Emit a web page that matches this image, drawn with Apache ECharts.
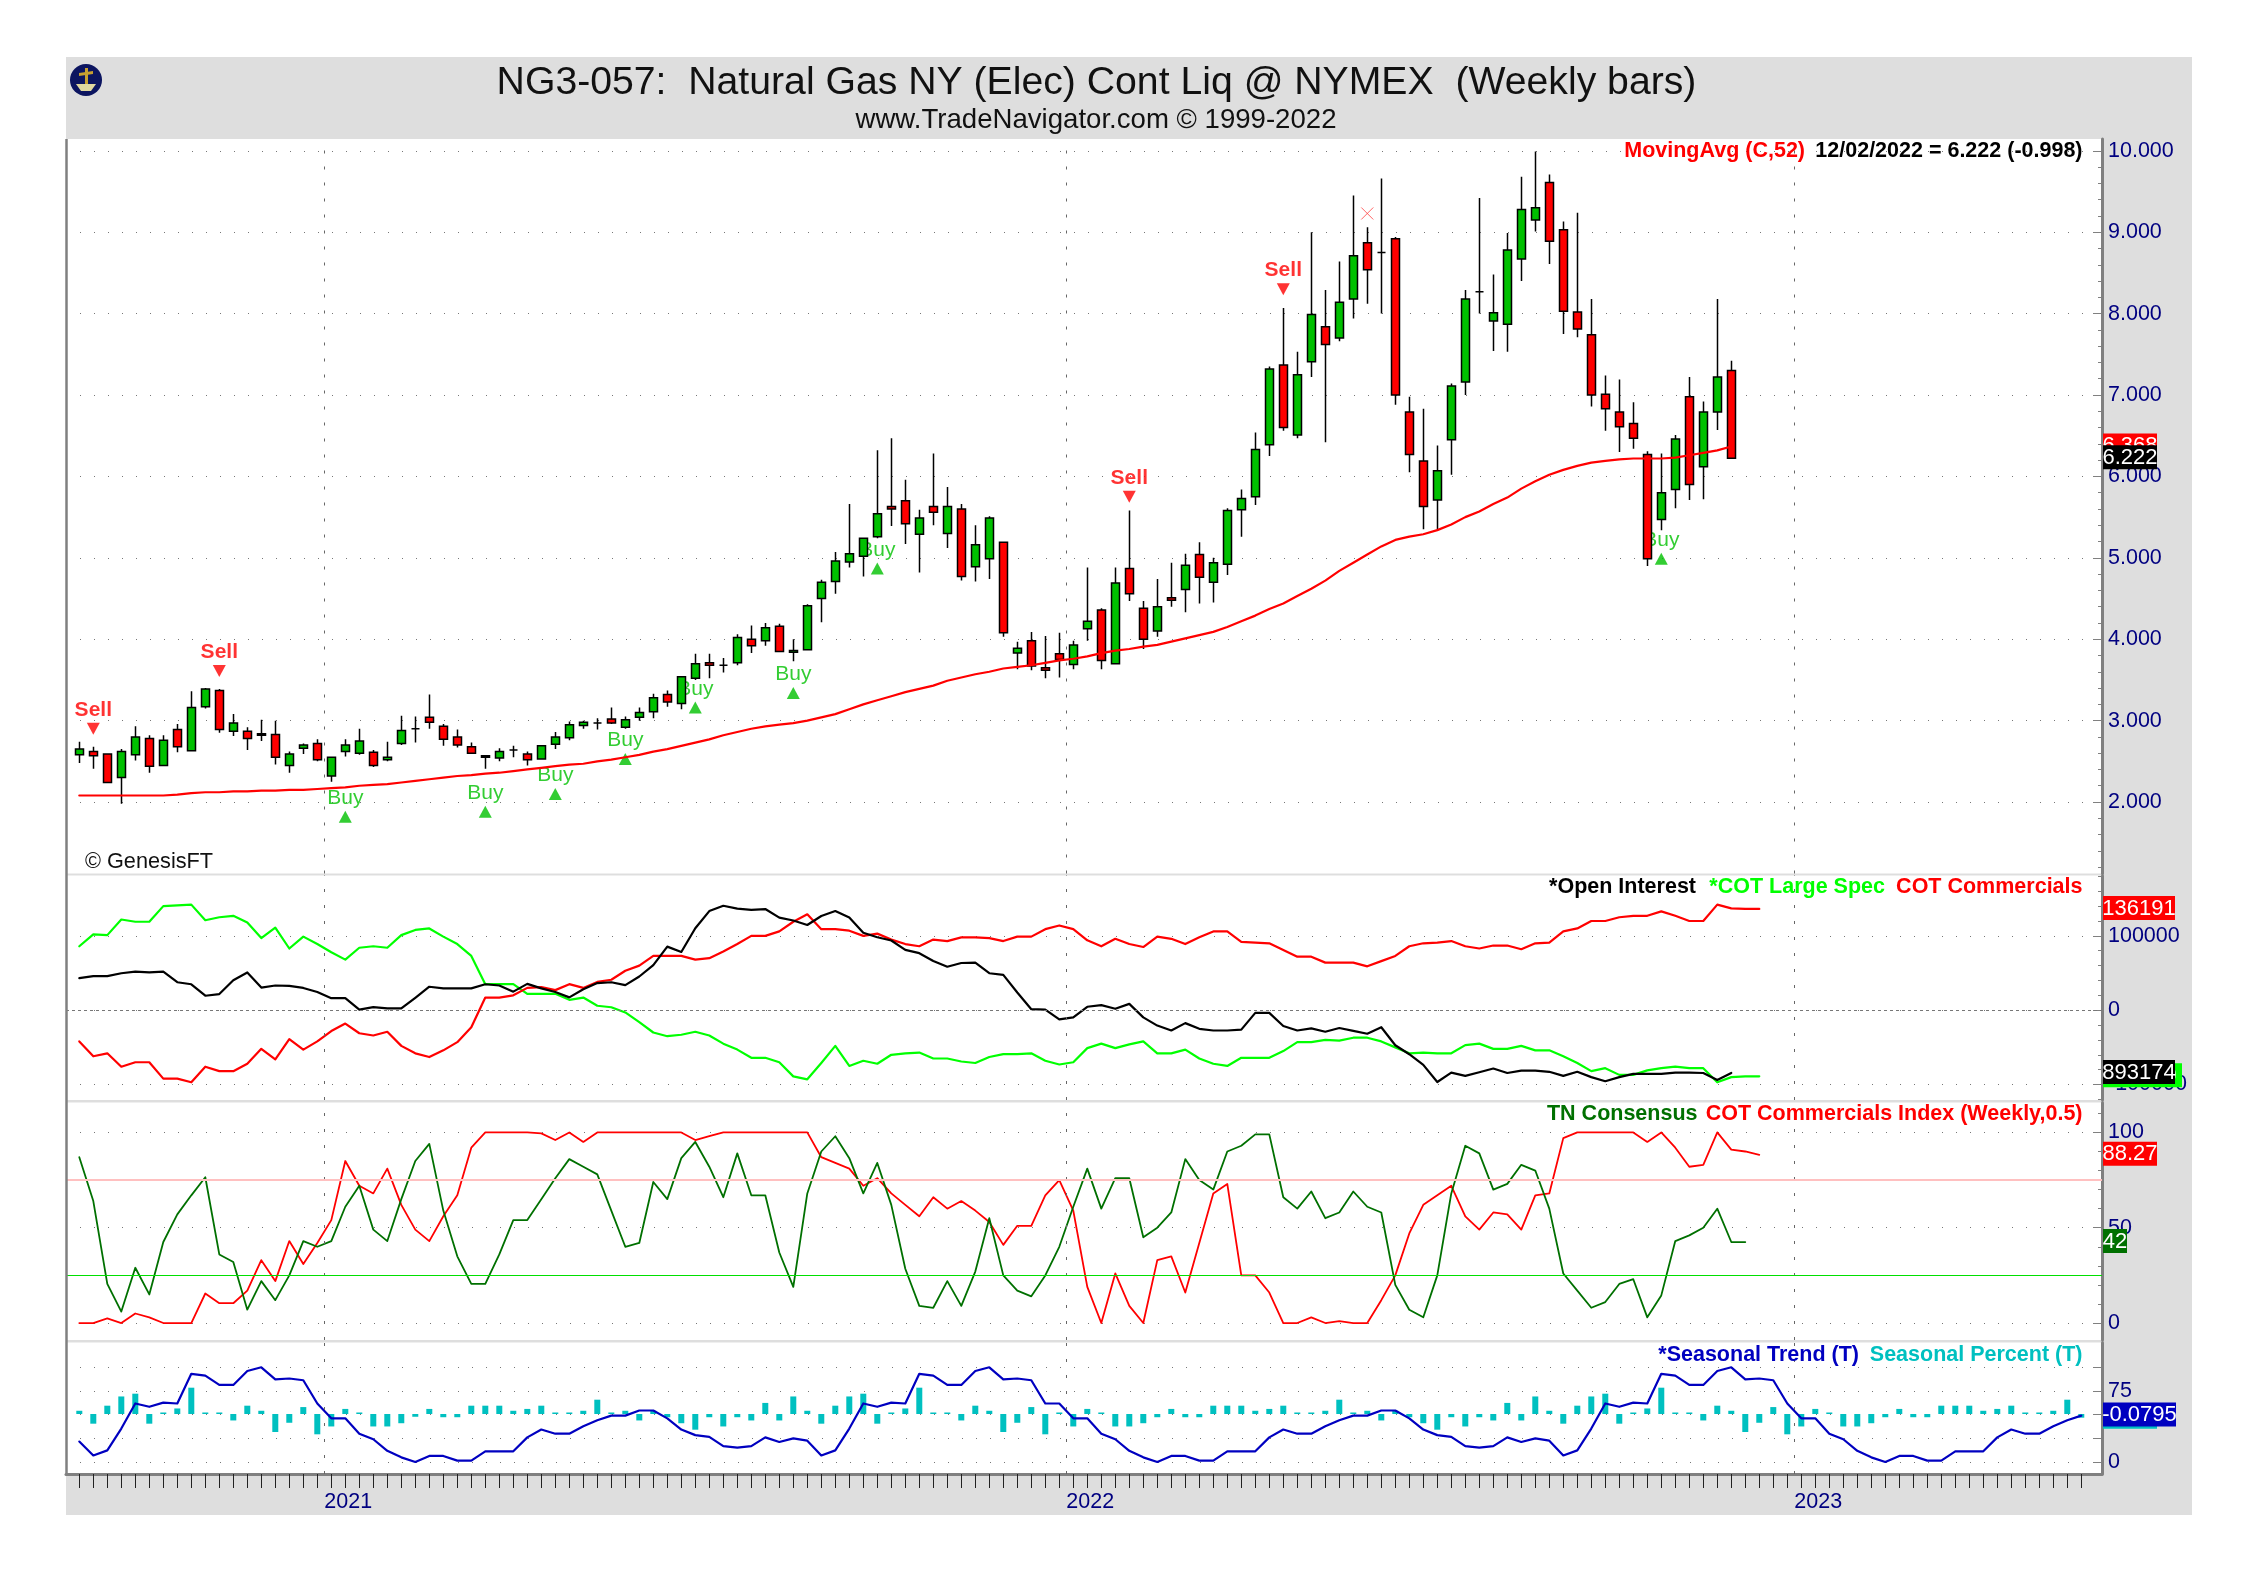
<!DOCTYPE html>
<html><head><meta charset="utf-8">
<style>html,body{margin:0;padding:0;background:#fff}#c{width:2258px;height:1584px}</style>
<script src="https://cdn.jsdelivr.net/npm/echarts@6/dist/echarts.min.js"></script>
</head><body><div id="c"></div>
<script>
// ---- price candles (weekly, last bar 12/02/2022)
const opens=[2.58,2.62,2.59,2.30,2.58,2.78,2.45,2.89,2.63,3.17,3.37,2.87,2.87,2.82,2.83,2.45,2.66,2.72,2.32,2.62,2.60,2.61,2.52,2.72,2.90,3.04,2.93,2.80,2.68,2.55,2.54,2.64,2.59,2.53,2.71,2.79,2.94,2.97,3.02,2.92,3.04,3.11,3.32,3.21,3.52,3.71,3.68,3.71,4.00,3.98,4.16,3.84,3.87,4.50,4.71,4.95,5.02,5.26,5.63,5.70,5.29,5.63,5.30,5.60,4.89,4.99,5.19,3.83,3.98,3.65,3.82,3.69,4.13,4.36,3.70,4.87,4.38,4.10,4.51,4.61,5.04,4.70,4.92,5.59,5.75,6.39,7.37,6.51,7.41,7.84,7.70,8.18,8.87,8.75,8.92,6.79,6.19,5.71,6.45,7.16,8.27,7.91,7.87,8.67,9.15,9.61,9.03,8.02,7.74,7.01,6.79,6.65,6.27,5.47,5.84,6.98,6.12,6.79,7.30];
const closes=[2.65,2.57,2.24,2.62,2.80,2.44,2.76,2.68,3.16,3.39,2.89,2.97,2.78,2.84,2.55,2.59,2.70,2.52,2.55,2.70,2.75,2.45,2.55,2.88,2.90,2.98,2.77,2.70,2.60,2.57,2.62,2.64,2.52,2.69,2.80,2.95,2.98,2.97,2.97,3.01,3.10,3.28,3.23,3.54,3.70,3.68,3.68,4.02,3.92,4.14,3.85,3.86,4.41,4.70,4.96,5.05,5.24,5.54,5.60,5.42,5.49,5.56,5.63,4.77,5.16,5.49,4.08,3.89,3.67,3.62,3.75,3.93,4.22,3.74,4.69,4.56,4.00,4.40,4.48,4.91,4.76,4.94,5.58,5.73,6.33,7.32,6.60,7.25,7.99,7.62,8.14,8.71,8.54,8.75,7.00,6.27,5.63,6.07,7.11,8.18,8.27,8.01,8.78,9.28,9.30,8.89,8.03,7.81,7.00,6.83,6.61,6.47,4.99,5.80,6.46,5.90,6.79,7.22,6.222];
const lows=[2.48,2.41,2.24,1.98,2.51,2.36,2.44,2.61,2.63,3.15,2.85,2.81,2.64,2.75,2.46,2.36,2.59,2.50,2.25,2.56,2.58,2.43,2.50,2.70,2.73,2.90,2.69,2.67,2.59,2.41,2.50,2.55,2.45,2.52,2.65,2.76,2.90,2.89,2.96,2.90,3.00,3.03,3.17,3.14,3.50,3.52,3.59,3.68,3.83,3.92,3.85,3.73,3.86,4.21,4.56,4.88,4.77,5.24,5.39,5.17,4.82,5.40,5.12,4.72,4.71,4.74,4.03,3.63,3.62,3.52,3.53,3.63,3.98,3.63,3.69,4.47,3.88,4.03,4.40,4.33,4.44,4.45,4.79,5.26,5.65,6.25,6.56,6.47,7.22,6.42,7.66,7.94,8.12,8.00,6.88,6.05,5.35,5.34,6.02,7.00,8.00,7.54,7.53,8.40,9.01,8.61,7.75,7.71,6.86,6.56,6.30,6.34,4.90,5.34,5.61,5.71,5.72,6.57,6.22];
const highs=[2.74,2.68,2.59,2.65,2.93,2.82,2.82,2.96,3.36,3.40,3.39,3.08,2.92,3.01,3.00,2.62,2.72,2.77,2.55,2.77,2.90,2.64,2.74,3.06,3.05,3.32,2.96,2.89,2.73,2.57,2.66,2.69,2.62,2.70,2.86,2.99,3.00,3.03,3.16,3.05,3.16,3.33,3.37,3.54,3.82,3.82,3.77,4.06,4.17,4.20,4.19,4.00,4.43,4.73,5.07,5.66,5.25,6.32,6.47,5.96,5.59,6.28,5.87,5.66,5.40,5.51,5.19,3.97,4.09,4.04,4.08,3.98,4.88,4.38,4.88,5.58,4.47,4.74,4.94,5.05,5.19,5.00,5.61,5.84,6.54,7.35,8.07,7.53,9.00,8.29,8.64,9.45,9.06,9.66,8.94,6.98,6.83,6.38,7.14,8.29,9.42,8.48,8.99,9.68,9.99,9.71,9.13,9.24,8.18,7.24,7.19,6.91,6.31,6.28,6.51,7.22,6.92,8.18,7.42];
const movingAvg=[2.08,2.08,2.08,2.08,2.08,2.08,2.08,2.09,2.11,2.12,2.12,2.13,2.13,2.14,2.14,2.15,2.15,2.16,2.17,2.18,2.20,2.21,2.22,2.24,2.26,2.28,2.30,2.32,2.33,2.35,2.36,2.38,2.40,2.42,2.44,2.46,2.47,2.50,2.52,2.55,2.58,2.62,2.65,2.69,2.73,2.77,2.82,2.86,2.90,2.93,2.95,2.97,3.00,3.04,3.08,3.14,3.20,3.25,3.30,3.35,3.39,3.43,3.49,3.53,3.57,3.60,3.64,3.66,3.68,3.71,3.74,3.76,3.79,3.83,3.86,3.88,3.91,3.93,3.97,4.01,4.05,4.09,4.15,4.22,4.29,4.37,4.44,4.53,4.62,4.72,4.84,4.94,5.04,5.14,5.22,5.26,5.29,5.34,5.41,5.50,5.57,5.66,5.74,5.85,5.94,6.02,6.08,6.13,6.17,6.19,6.21,6.22,6.22,6.22,6.23,6.26,6.29,6.32,6.368];
const buySignals=[[19,1.82],[29,1.88],[34,2.10],[39,2.53],[44,3.16],[51,3.34],[57,4.87],[113,4.99]];
const sellSignals=[[1,2.90],[10,3.61],[75,5.75],[86,8.30]];
const crossMarks=[[92,9.23]];
// ---- COT panel (thousands of contracts)
const cotLargeSpec=[86,102,101,122,119,119,140,141,142,121,125,127,118,97,111,83,99,89,78,68,84,86,84,101,108,110,99,89,73,35,35,35,22,22,22,14,17,6,4,-3,-16,-30,-35,-33,-29,-34,-45,-53,-64,-64,-70,-89,-93,-71,-48,-75,-68,-72,-60,-58,-57,-65,-65,-69,-71,-63,-59,-59,-58,-68,-73,-70,-51,-45,-51,-46,-42,-58,-58,-53,-65,-72,-75,-64,-64,-64,-55,-43,-43,-40,-41,-37,-37,-42,-50,-58,-57,-58,-58,-47,-45,-52,-52,-48,-54,-54,-62,-71,-82,-78,-87,-87,-81,-78,-76,-78,-78,-97,-90,-89,-89];
const cotCommercials=[-42,-62,-58,-76,-70,-70,-92,-92,-97,-76,-82,-82,-72,-52,-66,-39,-53,-42,-28,-18,-31,-34,-29,-48,-58,-63,-54,-43,-23,17,17,20,30,31,27,35,30,38,41,53,60,73,73,73,68,70,79,89,100,100,106,119,129,109,109,107,100,103,95,89,86,95,93,98,98,97,93,99,99,109,114,109,94,86,96,89,85,99,96,89,98,106,106,92,91,90,81,72,72,64,64,64,59,66,73,86,90,91,93,86,83,87,87,82,90,91,106,110,120,120,125,127,127,133,127,120,120,142,137,136.2,136.2];
const openInterest=[1125,1130,1130,1137,1141,1139,1141,1115,1110,1082,1086,1120,1139,1102,1107,1106,1101,1091,1076,1076,1048,1054,1051,1051,1077,1104,1100,1100,1100,1110,1107,1092,1111,1100,1091,1078,1098,1113,1115,1108,1129,1157,1202,1189,1247,1289,1302,1295,1292,1294,1273,1266,1255,1277,1289,1273,1236,1225,1217,1194,1186,1167,1153,1162,1163,1137,1133,1090,1049,1048,1024,1029,1055,1059,1050,1062,1029,1009,997,1015,1001,997,997,999,1040,1040,1008,997,1002,994,1003,996,989,1005,961,939,913,871,894,886,895,904,893,899,899,896,886,896,883,873,883,891,891,891,894,894,893,876,893.174];
// ---- consensus panel
const tnConsensus=[87,64,20.5,6,29,15,42.5,57,67,76.5,36,32,7,22,12,25,43,40,43,61,72,49,43,65,85,94,59,35,20.5,20.5,36,54,54,65,76,86,82,78,59,40,42,74,65,86.5,95,82,66,89,67,67,37,19,68,90,98,86.5,68,84,62,28.5,9,8,22,9,27,55,25,17,14,25,40,61,81,60,76,76,45,50,58,86,75,70,90,93,99,99,66,60,69,55,58,69,61,58,20,7,3,25,68,93,89,70,73,83,80,60,26,17,8,11,20.5,23,3,14.5,43,46,50,60,42.5,42.5];
const cotIndex=[0,0,2.4,0,5,3,0,0,0,15.5,10.4,10.4,17,33,22,43,31,42,54,85,72,68,81,62,49,43,56,67,92,100,100,100,100,99.5,96,100,95,100,100,100,100,100,100,100,96,98,100,100,100,100,100,100,100,87,84,81,72,76,68,62,56,66,60,64,59,53,41,51,51,67,75,59,19,0,26,9,0,33,35,16,42,68,73,25,25,16,0,0,3,0,1,0,0,12,25,47,62,67,72,56,49,58,57,49,67,68,97,100,100,100,100,100,95,100,92,82,83,100,91,90,88.27];
// ---- seasonal panel
const seasonalTrend=[21.6,6.9,12.3,35.3,61.8,58.3,62.7,61.8,93.1,91.2,81.4,81.4,96.1,100,87.3,88.2,86.3,61.8,46.1,46.1,29.9,24,11.8,4.9,0,6.4,6.4,1.5,1.5,11.3,11.3,11.3,26,34.3,29.9,29.9,37.7,44.1,49,49,54.4,54.4,46.1,34.3,28.4,26.5,16.7,15.2,16.7,26,21.1,25,22.5,6.9,12.3,35.3,61.8,58.3,62.7,61.8,93.1,91.2,81.4,81.4,96.1,100,87.3,88.2,86.3,61.8,61.8,46.1,46.1,29.9,24,11.8,4.9,0,6.4,6.4,1.5,1.5,11.3,11.3,11.3,26,34.3,29.9,29.9,37.7,44.1,49,49,54.4,54.4,46.1,34.3,28.4,26.5,16.7,15.2,16.7,26,21.1,25,22.5,6.9,12.3,35.3,61.8,58.3,62.7,61.8,93.1,91.2,81.4,81.4,96.1,100,87.3,88.2,86.3,61.8,46.1,46.1,29.9,24,11.8,4.9,0,6.4,6.4,1.5,1.5,11.3,11.3,11.3,26,34.3,29.9,29.9,37.7,44.1,49];
const seasonalPercent=[0.7,-2.1,1.8,3.8,4.4,-2.1,0,1.2,5.7,0,0,-1.4,1.8,0.7,-3.9,-1.9,1.5,-4.4,-2.7,1.1,0,-2.7,-2.7,-2,-0.6,1.1,-0.7,-0.7,1.8,1.8,1.8,0.7,1.1,1.8,0,0,0.7,3.1,0.2,0.7,-1.4,0.7,-0.7,-2,-3.4,-0.7,-2.7,-0.7,-1.4,2.4,-1.4,3.8,0.7,-2.1,1.8,3.8,4.4,-2.1,0,1.2,5.7,0,0,-1.4,1.8,0.7,-3.9,-1.9,1.5,-4.4,0,-2.7,1.1,0,-2.7,-2.7,-2,-0.7,1.1,-0.7,-0.7,1.8,1.8,1.8,0.7,1.1,1.8,0,0,0.7,3.1,0.2,0.7,-1.4,0.7,-0.7,-2,-3.4,-0.7,-2.7,-0.7,-1.4,2.4,-1.4,3.8,0.7,-2.1,1.8,3.8,4.4,-2.1,0,1.2,5.7,0,0,-1.4,1.8,0.7,-3.9,-1.9,1.5,-4.4,-2.7,1.1,0,-2.7,-2.7,-2,-0.7,1.1,-0.7,-0.7,1.8,1.8,1.8,0.7,1.1,1.8,0,0,0.7,3.1,-0.8];
// ---- axes
const yearBoundaries=[17.5,70.5,122.5];
const yearLabels=['2021','2022','2023'];
const weekTicks=Array.from({length:144},(_,i)=>i);
const priceTicks=[2,3,4,5,6,7,8,9,10];
const priceMinor=[];for(let v=1.2;v<10.15;v+=0.2)priceMinor.push(+v.toFixed(1));
const cotTicks=[-100,0,100];
const cotMinor=[-120,-80,-60,-40,-20,20,40,60,80,120,140,160,180];
const indexTicks=[0,50,100];
const indexMinor=[10,20,30,40,60,70,80,90,110];
const seasonTicks=[0,25,50,75,100];
const seasonLabels=[0,75];
const X_MIN=-0.95,X_MAX=144.48;
const navy='#000080',FONT='"Liberation Sans"';
const pair=a=>a.map((v,i)=>[i,v]);

const chart=echarts.init(document.getElementById('c'),null,{renderer:'canvas',width:2258,height:1584});
const grids=[{top:139,h:734.5},{top:875.5,h:224.5},{top:1102.5,h:237.5},{top:1342.5,h:131.5}];
const dotted={show:true,lineStyle:{type:[1,13],color:'#777',width:1}};
function xAx(g,show){return {type:'value',gridIndex:g,min:X_MIN,max:X_MAX,show:show,position:'bottom',
  splitLine:{show:false},
  axisLine:{show:true,onZero:false,lineStyle:{color:'#808080',width:3}},
  axisTick:{show:true,customValues:weekTicks,length:14,inside:false,lineStyle:{color:'#222',width:1}},
  axisLabel:{show:true,customValues:yearBoundaries,align:'left',margin:17,color:navy,fontSize:21.5,fontFamily:FONT,
    formatter:v=>yearLabels[yearBoundaries.indexOf(v)]||''}};}
function yMain(g,min,max,ticks,labels,fmt){return {type:'value',gridIndex:g,min,max,position:'right',scale:true,
  splitLine:dotted,
  axisLine:{show:true,onZero:false,lineStyle:{color:'#808080',width:3}},
  axisTick:{show:true,inside:true,length:9,customValues:ticks,lineStyle:{color:'#808080',width:1}},
  axisLabel:{show:true,customValues:labels||ticks,inside:false,margin:6,color:navy,fontSize:21.5,fontFamily:FONT,formatter:fmt||(v=>String(v))}};}
function yMinor(g,min,max,ticks){return {type:'value',gridIndex:g,min,max,position:'right',
  splitLine:{show:false},axisLine:{show:false,onZero:false},axisLabel:{show:false},
  axisTick:{show:true,inside:true,length:4,customValues:ticks,lineStyle:{color:'#808080',width:1}}};}
function yHidden(g,min,max){return {type:'value',gridIndex:g,min,max,show:false,position:'right',splitLine:{show:false}};}

const P=[1.122,10.145],C=[-120.8,181.2],I=[-8.9,115.7],S=[-12.67,126.2],OI=[827,1376],PCT=[-13,15.49];
const yAxes=[
 yMain(0,P[0],P[1],priceTicks,null,v=>v.toFixed(3)), yMinor(0,P[0],P[1],priceMinor),
 yMain(1,C[0],C[1],cotTicks,null,v=>String(v*1000)), yMinor(1,C[0],C[1],cotMinor), yHidden(1,OI[0],OI[1]),
 yMain(2,I[0],I[1],indexTicks), yMinor(2,I[0],I[1],indexMinor),
 yMain(3,S[0],S[1],seasonTicks,seasonLabels), yMinor(3,S[0],S[1],[]), yHidden(3,PCT[0],PCT[1])
];
const vLines={silent:true,symbol:'none',animation:false,label:{show:false},
  lineStyle:{type:[3,13],color:'#666',width:1},data:yearBoundaries.map(v=>({xAxis:v}))};
function line(x,y,data,color,width,z,markLine){return {type:'line',xAxisIndex:x,yAxisIndex:y,data:pair(data),showSymbol:false,symbol:'none',
  animation:false,silent:true,z:z||4,lineStyle:{color,width,cap:'round',join:'round'},markLine};}

const series=[
 {type:'scatter',name:'Buy',xAxisIndex:0,yAxisIndex:0,z:1,data:buySignals,symbol:'triangle',symbolSize:[13,12],animation:false,silent:true,
  itemStyle:{color:'#00c000'},markLine:vLines,
  label:{show:true,position:'top',distance:2,formatter:'Buy',color:'#00c000',fontSize:21,fontFamily:FONT}},
 {type:'scatter',name:'Sell',xAxisIndex:0,yAxisIndex:0,z:5,data:sellSignals,symbol:'triangle',symbolRotate:180,symbolSize:[13,12],animation:false,silent:true,
  itemStyle:{color:'#ff0000'},
  label:{show:true,position:'top',distance:2,formatter:'Sell',color:'#ff0000',fontWeight:'bold',fontSize:21,fontFamily:FONT}},
 {type:'scatter',name:'X',xAxisIndex:0,yAxisIndex:0,z:5,data:crossMarks,symbol:'path://M0 0L10 10M10 0L0 10',symbolSize:12,animation:false,silent:true,
  itemStyle:{color:'none',borderColor:'#ff4040',borderWidth:1}},
 {type:'candlestick',name:'NG',xAxisIndex:0,yAxisIndex:0,z:3,barWidth:9,animation:false,silent:true,
  data:opens.map((o,i)=>[i,o,closes[i],lows[i],highs[i]]),
  itemStyle:{color:'#00c000',color0:'#ff0000',borderColor:'#000',borderColor0:'#000',borderColorDoji:'#000',borderWidth:1.5}},
 line(0,0,movingAvg,'#ff0000',2.2,4),
 line(1,2,cotLargeSpec,'#00ff00',2.2,3,{...vLines,data:[...vLines.data,{yAxis:0,lineStyle:{type:[3,3],color:'#777',width:1}}]}),
 line(1,2,cotCommercials,'#ff0000',2.2,3),
 line(1,4,openInterest,'#000000',2.2,4),
 line(2,5,cotIndex,'#ff0000',1.8,4,{...vLines,data:[...vLines.data,
   {yAxis:75,lineStyle:{type:'solid',color:'#ffc0c0',width:2}},
   {yAxis:25,lineStyle:{type:'solid',color:'#00e000',width:1}}]}),
 line(2,5,tnConsensus,'#007000',1.8,4),
 {type:'bar',xAxisIndex:3,yAxisIndex:9,data:pair(seasonalPercent),barWidth:6,barMinHeight:1.5,animation:false,silent:true,z:2,
  itemStyle:{color:'#00c0c0'},markLine:vLines},
 line(3,7,seasonalTrend,'#0000c0',2.2,4)
];

function tx(text,x,y,fill,font,align){return {type:'text',z:50,silent:true,style:{text,x,y,fill,font,align:align||'right',verticalAlign:'middle'}};}
const legendFont='bold 21.5px '+FONT;
const staticGraphics=[
 {type:'rect',z:-100,silent:true,shape:{x:66,y:57,width:2126,height:1458},style:{fill:'#dedede'}},
 {type:'line',z:40,silent:true,shape:{x1:66.5,y1:139,x2:66.5,y2:1474},style:{stroke:'#808080',lineWidth:2.5}},
 {type:'circle',z:40,silent:true,shape:{cx:86,cy:80,r:16},style:{fill:'#0c1560'}},
 {type:'polygon',z:41,silent:true,shape:{points:[[76,84],[96,84],[91,91],[81,91]]},style:{fill:'#e0d8a0'}},
 {type:'polygon',z:41,silent:true,shape:{points:[[85,68],[88,68],[88,84],[85,84]]},style:{fill:'#c8a030'}},
 {type:'polygon',z:41,silent:true,shape:{points:[[79,73],[93,71],[93,74],[79,76]]},style:{fill:'#c8a030'}},
 tx('NG3-057:  Natural Gas NY (Elec) Cont Liq @ NYMEX  (Weekly bars)',1096.5,83,'#111','39.2px '+FONT,'center'),
 tx('www.TradeNavigator.com © 1999-2022',1096,120.5,'#111','27.6px '+FONT,'center'),
 tx('© GenesisFT',85,862,'#111','21.7px '+FONT,'left'),
 tx('MovingAvg (C,52)',1805,151,'#ff0000',legendFont),
 tx('12/02/2022 = 6.222 (-0.998)',2082.5,151,'#000',legendFont),
 tx('*Open Interest',1696,887,'#000',legendFont),
 tx('*COT Large Spec',1885,887,'#00ff00',legendFont),
 tx('COT Commercials',2082.5,887,'#ff0000',legendFont),
 tx('TN Consensus',1697.5,1114,'#007000',legendFont),
 tx('COT Commercials Index (Weekly,0.5)',2082.5,1114,'#ff0000',legendFont),
 tx('*Seasonal Trend (T)',1859,1355,'#0000c0',legendFont),
 tx('Seasonal Percent (T)',2082.5,1355,'#00c0c0',legendFont)
];
chart.setOption({
 animation:false,backgroundColor:'#ffffff',
 grid:grids.map(g=>({left:66,width:2036,top:g.top,height:g.h,show:true,backgroundColor:'#ffffff',borderWidth:0,z:-50})),
 xAxis:[xAx(0,false),xAx(1,false),xAx(2,false),xAx(3,true)],
 yAxis:yAxes,series,graphic:{elements:staticGraphics}
});
// value tags on the right scale, placed through the axis scales
const tags=[
 [0,movingAvg[118],'6.368','#ff0000','#fff',54],
 [0,closes[118],'6.222','#000','#fff',54],
 [2,cotCommercials[120],'136191','#ff0000','#fff',72],
 [2,cotLargeSpec[120],'-89049','#00ff00','#fff',79],
 [4,openInterest[118],'893174','#000','#fff',72],
 [5,cotIndex[120],'88.27','#ff0000','#fff',54],
 [5,tnConsensus[119],'42','#007000','#fff',24],
 [9,seasonalPercent[143],'3.13','#00c0c0','#fff',54],
 [7,seasonalTrend[143],'-0.0795','#0000c0','#fff',73]
];
const tagEls=[];
tags.forEach(([ax,v,text,bg,fg,w],i)=>{
 const y=chart.convertToPixel({yAxisIndex:ax},v);
 tagEls.push({type:'rect',z:60+i*2,silent:true,shape:{x:2103,y:y-13,width:w,height:24},style:{fill:bg}});
 tagEls.push({type:'text',z:61+i*2,silent:true,style:{text,x:2103+w/2,y:y-0.5,fill:fg,font:'22px '+FONT,align:'center',verticalAlign:'middle'}});
});
chart.setOption({graphic:{elements:staticGraphics.concat(tagEls)}});
</script></body></html>
